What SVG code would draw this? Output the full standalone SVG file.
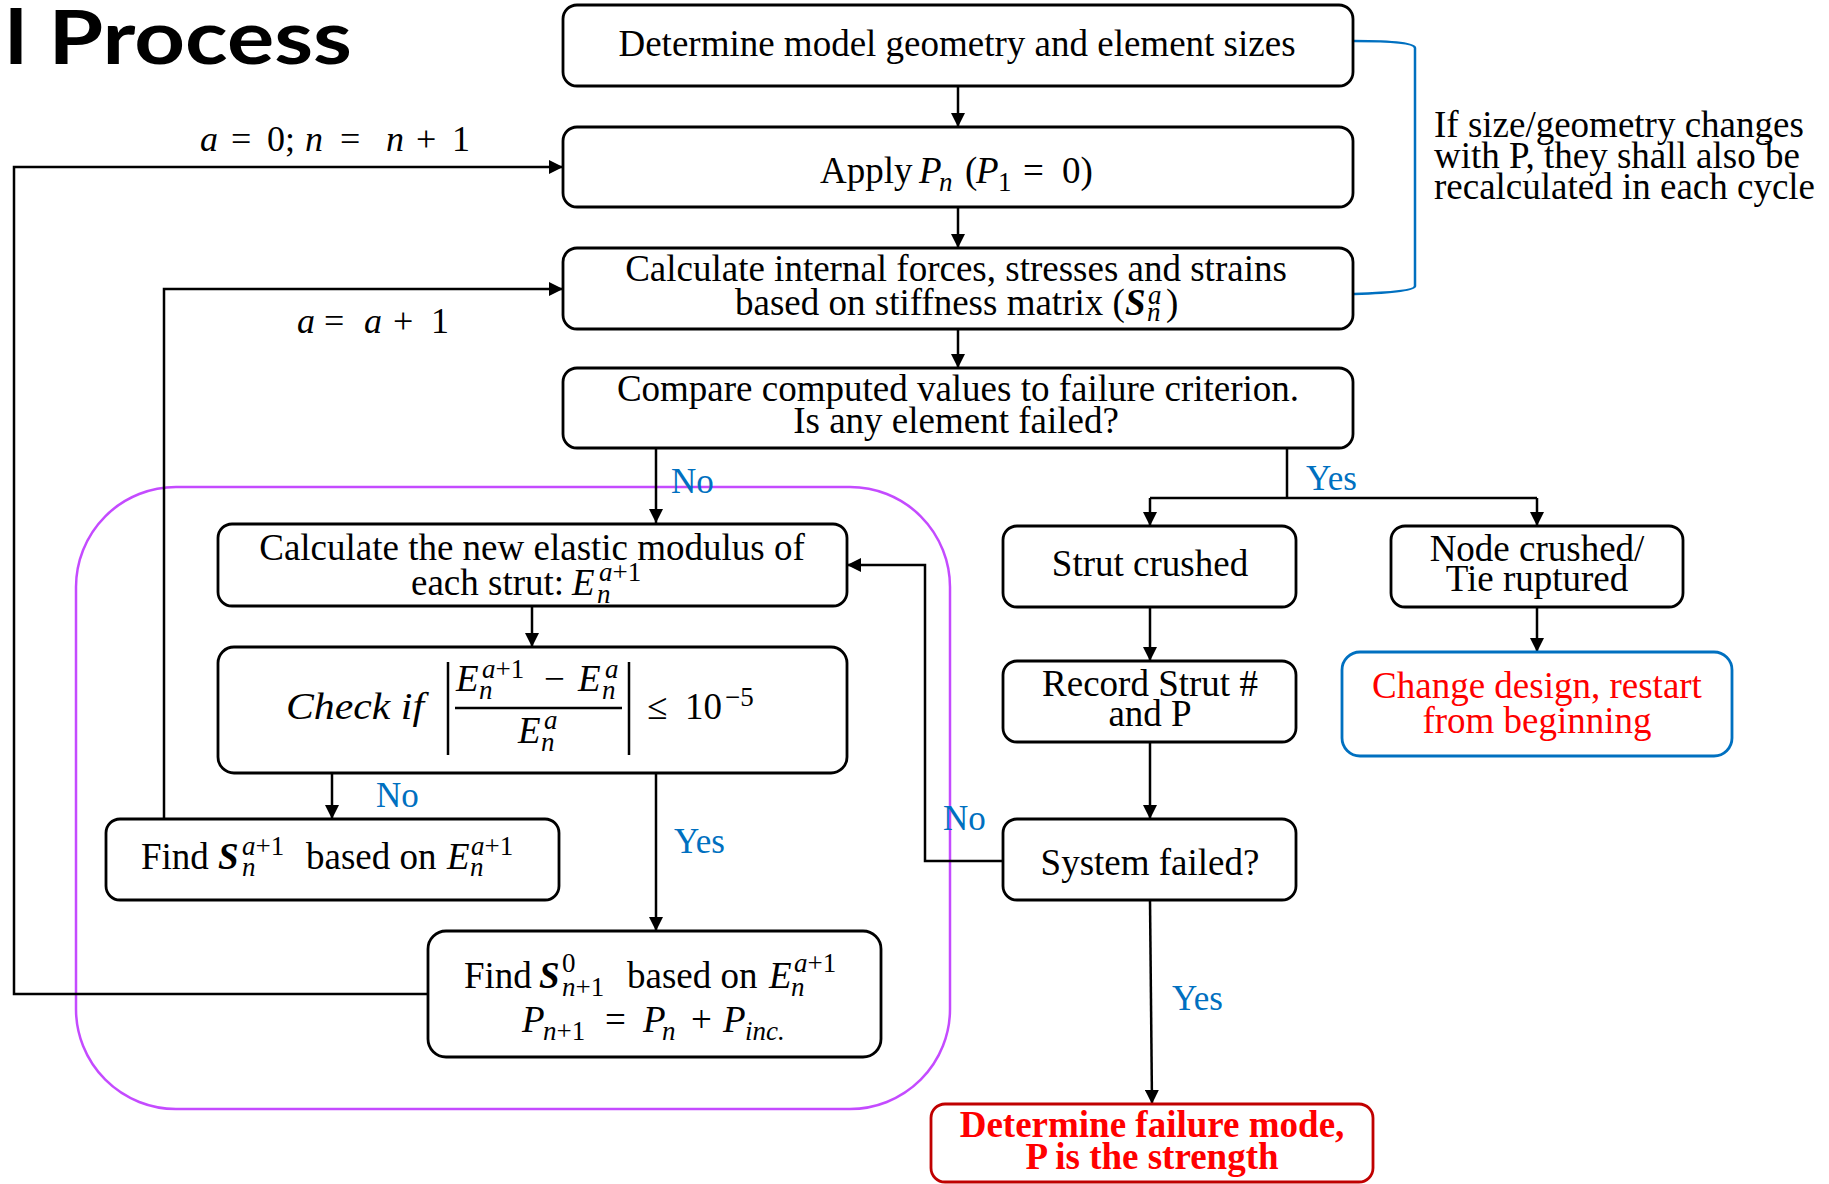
<svg xmlns="http://www.w3.org/2000/svg" width="1829" height="1184" viewBox="0 0 1829 1184">
<style>
.box{fill:#fff;stroke:#000;stroke-width:2.8}
.t{font-family:"Liberation Serif","Times New Roman",serif;font-size:37px;fill:#000;transform:translate(0px,3px)}
.mid{text-anchor:middle}
.i{font-style:italic}
.b{font-weight:bold}
.s{font-size:27px}
.lbl{font-family:"Liberation Serif","Times New Roman",serif;font-size:35px;fill:#0070C0}
.c{fill:none;stroke:#000;stroke-width:2.5}
.red{fill:#FF0000}
</style>
<defs>
<marker id="arr" viewBox="0 0 14 14" refX="14" refY="7" markerWidth="14" markerHeight="14" markerUnits="userSpaceOnUse" orient="auto">
<path d="M0,0 L14,7 L0,14 z" fill="#000"/>
</marker>
</defs>
<rect width="1829" height="1184" fill="#fff"/>

<text x="5" y="64" font-family="Lato, 'Open Sans', sans-serif" font-weight="bold" font-size="74" textLength="347" lengthAdjust="spacingAndGlyphs">l Process</text>

<g id="loop-frame">
<rect x="76" y="487" width="874" height="622" rx="100" fill="none" stroke="#C44BFF" stroke-width="2.5"/>
</g>

<g id="connectors">
<path class="c" d="M958,86 V127" marker-end="url(#arr)"/>
<path class="c" d="M958,207 V248" marker-end="url(#arr)"/>
<path class="c" d="M958,329 V368" marker-end="url(#arr)"/>
<path class="c" d="M656,448 V523" marker-end="url(#arr)"/>
<path class="c" d="M1287,448 V498 M1150,498 H1537"/>
<path class="c" d="M1150,498 V526" marker-end="url(#arr)"/>
<path class="c" d="M1537,498 V526" marker-end="url(#arr)"/>
<path class="c" d="M532,606 V647" marker-end="url(#arr)"/>
<path class="c" d="M332,773 V819" marker-end="url(#arr)"/>
<path class="c" d="M656,773 V931" marker-end="url(#arr)"/>
<path class="c" d="M164,819 V289 H563" marker-end="url(#arr)"/>
<path class="c" d="M427,994 H14 V167 H563" marker-end="url(#arr)"/>
<path class="c" d="M1150,607 V661" marker-end="url(#arr)"/>
<path class="c" d="M1150,742 V819" marker-end="url(#arr)"/>
<path class="c" d="M1003,861 H925 V565 H847" marker-end="url(#arr)"/>
<path class="c" d="M1150,900 L1152,1104" marker-end="url(#arr)"/>
<path class="c" d="M1537,607 V652" marker-end="url(#arr)"/>
<path d="M1354,41 Q1415,41 1415,48 V286 Q1415,292 1354,294" fill="none" stroke="#0070C0" stroke-width="2.5"/>
<text class="lbl" x="671" y="493">No</text>
<text class="lbl" x="1306" y="490">Yes</text>
<text class="lbl" x="376" y="807">No</text>
<text class="lbl" x="674" y="853">Yes</text>
<text class="lbl" x="943" y="830">No</text>
<text class="lbl" x="1172" y="1010">Yes</text>
<g class="t">
<text class="i" x="200" y="148" font-size="36">a</text>
<text x="231" y="148" font-size="36">=</text>
<text x="267" y="148" font-size="36">0;</text>
<text class="i" x="305" y="148" font-size="36">n</text>
<text x="340" y="148" font-size="36">=</text>
<text class="i" x="386" y="148" font-size="36">n</text>
<text x="416" y="148" font-size="36">+</text>
<text x="452" y="148" font-size="36">1</text>
<text class="i" x="297" y="330" font-size="36">a</text>
<text x="324" y="330" font-size="36">=</text>
<text class="i" x="364" y="330" font-size="36">a</text>
<text x="393" y="330" font-size="36">+</text>
<text x="431" y="330" font-size="36">1</text>
</g>
</g>

<g id="n-geometry">
<rect class="box" x="563" y="5" width="790" height="81" rx="14"/>
<text class="t mid" x="957" y="53">Determine model geometry and element sizes</text>
</g>

<g id="note">
<text class="t" x="1434" y="134">If size/geometry changes</text>
<text class="t" x="1434" y="165">with P, they shall also be</text>
<text class="t" x="1434" y="196">recalculated in each cycle</text>
</g>

<g id="n-apply">
<rect class="box" x="563" y="127" width="790" height="80" rx="14"/>
<g class="t">
<text x="820" y="180">Apply</text>
<text class="i" x="919" y="180">P</text>
<text class="s i" x="939" y="188">n</text>
<text x="965" y="180">(</text>
<text class="i" x="976" y="180">P</text>
<text class="s" x="998" y="188">1</text>
<text x="1023" y="180">=</text>
<text x="1062" y="180">0)</text>
</g>
</g>

<g id="n-calc">
<rect class="box" x="563" y="248" width="790" height="81" rx="14"/>
<g class="t">
<text class="mid" x="956" y="278">Calculate internal forces, stresses and strains</text>
<text x="735" y="312">based on stiffness matrix (</text>
<text class="b i" x="1125" y="312">S</text>
<text class="s i" x="1148" y="301">a</text>
<text class="s i" x="1147" y="318">n</text>
<text x="1166" y="312">)</text>
</g>
</g>

<g id="n-compare">
<rect class="box" x="563" y="368" width="790" height="80" rx="14"/>
<text class="t mid" x="958" y="398">Compare computed values to failure criterion.</text>
<text class="t mid" x="956" y="430">Is any element failed?</text>
</g>

<g id="n-modulus">
<rect class="box" x="218" y="524" width="629" height="82" rx="14"/>
<g class="t">
<text class="mid" x="532" y="557">Calculate the new elastic modulus of</text>
<text x="411" y="592">each strut:</text>
<text class="i" x="572" y="592">E</text>
<text class="s i" x="597" y="600">n</text>
<text class="s" x="599" y="578"><tspan class="i">a</tspan>+1</text>
</g>
</g>

<g id="n-check">
<rect class="box" x="218" y="647" width="629" height="126" rx="16"/>
<g class="t">
<text class="i" x="286" y="716" textLength="138" lengthAdjust="spacingAndGlyphs">Check if</text>
<text class="i" x="456" y="688">E</text>
<text class="s i" x="479" y="696">n</text>
<text class="s" x="482" y="675"><tspan class="i">a</tspan>+1</text>
<text x="544" y="688">−</text>
<text class="i" x="578" y="688">E</text>
<text class="s i" x="605" y="675">a</text>
<text class="s i" x="602" y="696">n</text>
<text class="i" x="518" y="740">E</text>
<text class="s i" x="544" y="726">a</text>
<text class="s i" x="541" y="748">n</text>
<text x="647" y="716">≤</text>
<text x="685" y="716">10</text>
<text class="s" x="725" y="703">−5</text>
</g>
<path d="M448,662 V755 M629,662 V755 M455,708 H622" stroke="#000" stroke-width="2.5" fill="none"/>
</g>

<g id="n-find-s">
<rect class="box" x="106" y="819" width="453" height="81" rx="14"/>
<g class="t">
<text x="141" y="866">Find</text>
<text class="b i" x="218" y="866">S</text>
<text class="s" x="242" y="852"><tspan class="i">a</tspan>+1</text>
<text class="s i" x="242" y="873">n</text>
<text x="306" y="866">based on</text>
<text class="i" x="447" y="866">E</text>
<text class="s" x="471" y="852"><tspan class="i">a</tspan>+1</text>
<text class="s i" x="470" y="873">n</text>
</g>
</g>

<g id="n-find-s0">
<rect class="box" x="428" y="931" width="453" height="126" rx="18"/>
<g class="t">
<text x="464" y="985">Find</text>
<text class="b i" x="539" y="985">S</text>
<text class="s" x="562" y="969">0</text>
<text class="s" x="562" y="993"><tspan class="i">n</tspan>+1</text>
<text x="627" y="985">based on</text>
<text class="i" x="769" y="985">E</text>
<text class="s" x="794" y="969"><tspan class="i">a</tspan>+1</text>
<text class="s i" x="791" y="993">n</text>
<text class="i" x="522" y="1029">P</text>
<text class="s" x="543" y="1037"><tspan class="i">n</tspan>+1</text>
<text x="605" y="1029">=</text>
<text class="i" x="643" y="1029">P</text>
<text class="s i" x="662" y="1037">n</text>
<text x="691" y="1029">+</text>
<text class="i" x="723" y="1029">P</text>
<text class="s i" x="745" y="1037">inc.</text>
</g>
</g>

<g id="n-strut">
<rect class="box" x="1003" y="526" width="293" height="81" rx="14"/>
<text class="t mid" x="1150" y="573">Strut crushed</text>
</g>

<g id="n-node">
<rect class="box" x="1391" y="526" width="292" height="81" rx="14"/>
<text class="t mid" x="1537" y="558">Node crushed/</text>
<text class="t mid" x="1537" y="588">Tie ruptured</text>
</g>

<g id="n-record">
<rect class="box" x="1003" y="661" width="293" height="81" rx="14"/>
<text class="t mid" x="1150" y="693">Record Strut #</text>
<text class="t mid" x="1150" y="723">and P</text>
</g>

<g id="n-change">
<rect x="1342" y="652" width="390" height="104" rx="18" fill="#fff" stroke="#0070C0" stroke-width="2.8"/>
<text class="t mid red" x="1537" y="695">Change design, restart</text>
<text class="t mid red" x="1537" y="730">from beginning</text>
</g>

<g id="n-system">
<rect class="box" x="1003" y="819" width="293" height="81" rx="14"/>
<text class="t mid" x="1150" y="872">System failed?</text>
</g>

<g id="n-final">
<rect x="931" y="1104" width="442" height="78" rx="14" fill="#fff" stroke="#C00000" stroke-width="2.8"/>
<text class="t mid red b" x="1152" y="1134">Determine failure mode,</text>
<text class="t mid red b" x="1152" y="1166">P is the strength</text>
</g>
</svg>
